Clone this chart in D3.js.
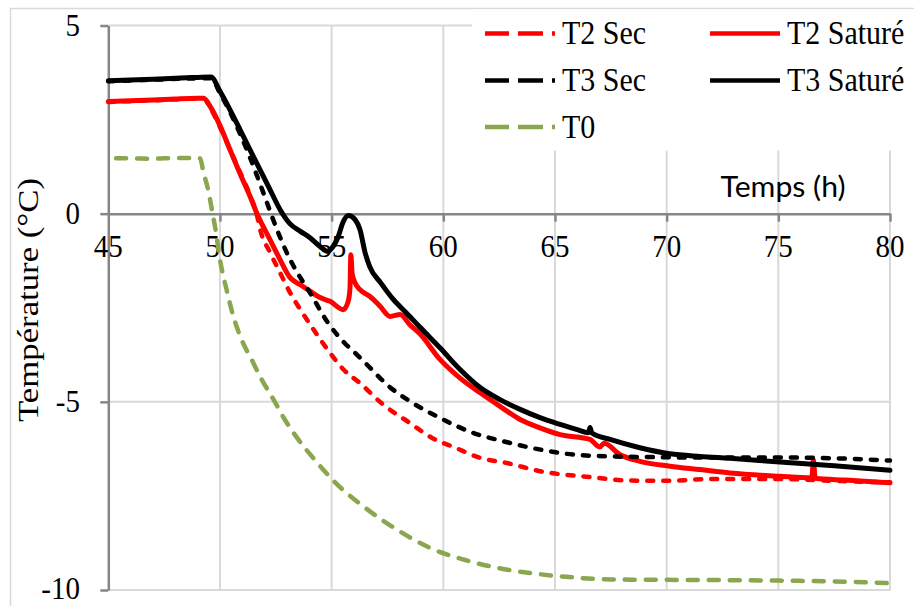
<!DOCTYPE html>
<html><head><meta charset="utf-8">
<script src="https://cdn.jsdelivr.net/npm/d3@7"></script>
<style>body{margin:0;background:#fff}svg{display:block}</style>
</head><body>
<svg id="c" width="914" height="606"></svg>
<script>
// ---- data ----
const xTicks = [45, 50, 55, 60, 65, 70, 75, 80];
const yTicks = [5, 0, -5, -10];
const xTitle = "Temps (h)";
const yTitle = "Température (°C)";

const t2SecT = [45, 47, 49.27, 49.56, 50, 50.45, 50.9, 51.34, 51.66, 51.8, 52.25, 52.7, 53.14, 53.6, 54.19, 54.93, 55.53, 56.26, 57.3, 58.5, 59.5, 60.54, 61.65, 62.8, 64.4, 66.6, 68.2, 70, 72, 75, 77.5, 80];
const t2SecV = [2.97, 3.01, 3.06, 2.82, 2.3, 1.7, 1.1, 0.5, -0.05, -0.42, -1.04, -1.58, -2.1, -2.55, -3.08, -3.7, -4.14, -4.5, -5.07, -5.56, -5.96, -6.22, -6.49, -6.62, -6.85, -7.0, -7.09, -7.1, -7.05, -7.05, -7.1, -7.14];

const t2SatT = [45, 46, 47, 48, 49, 49.27, 49.56, 50, 50.45, 50.9, 51.34, 51.66, 52.24, 52.69, 53.14, 53.6, 54.03, 54.48, 54.93, 55.52, 55.74, 55.82, 55.86, 55.92, 56.05, 56.27, 56.72, 57.17, 57.62, 58.07, 58.5, 58.96, 59.86, 60.75, 61.65, 62.54, 63.44, 64.33, 65.23, 66.57, 67.0, 67.2, 67.9, 68.8, 70.15, 71.5, 72.84, 75.07, 76.5, 76.57, 76.65, 78, 80];
const t2SatV = [2.98, 3.0, 3.02, 3.05, 3.07, 3.07, 2.85, 2.34, 1.7, 1.06, 0.47, 0.0, -0.69, -1.22, -1.7, -1.89, -2.06, -2.23, -2.33, -2.55, -2.33, -2.0, -1.09, -1.6, -1.84, -2.02, -2.2, -2.46, -2.73, -2.68, -2.95, -3.2, -3.88, -4.37, -4.76, -5.12, -5.47, -5.69, -5.87, -6.0, -6.2, -6.1, -6.4, -6.58, -6.71, -6.8, -6.89, -6.98, -7.02, -6.54, -7.03, -7.08, -7.15];

const t3SecT = [45, 47, 49.6, 50, 50.45, 50.9, 51.34, 51.79, 52.1, 52.55, 53.14, 53.6, 54.03, 54.78, 55.6, 56.05, 56.58, 57.47, 58.52, 59.86, 61.36, 62.7, 64.35, 65.8, 67.5, 69.5, 72, 75, 77.5, 80];
const t3SecV = [3.52, 3.56, 3.6, 3.2, 2.7, 2.12, 1.5, 0.8, 0.3, -0.42, -1.22, -1.7, -2.1, -2.85, -3.45, -3.7, -4.01, -4.54, -4.99, -5.43, -5.83, -6.05, -6.27, -6.4, -6.45, -6.47, -6.48, -6.48, -6.5, -6.56];

const t3SatT = [45, 46, 47, 48, 49, 49.6, 50, 50.45, 50.9, 51.34, 51.79, 52.24, 52.7, 53.14, 53.6, 54.03, 54.48, 54.8, 55.0, 55.3, 55.5, 55.75, 56.05, 56.27, 56.5, 56.7, 57.2, 57.76, 58.37, 58.96, 59.86, 60.75, 61.65, 62.54, 63.44, 64.33, 65.23, 66.0, 66.5, 66.57, 66.65, 67.47, 68.8, 70.15, 71.5, 72.84, 75.07, 77.5, 80];
const t3SatV = [3.53, 3.55, 3.57, 3.6, 3.62, 3.63, 3.25, 2.76, 2.23, 1.7, 1.17, 0.64, 0.1, -0.27, -0.47, -0.64, -0.87, -1.0, -0.92, -0.6, -0.24, -0.05, -0.16, -0.43, -1.04, -1.4, -1.84, -2.28, -2.65, -3.02, -3.57, -4.14, -4.62, -4.94, -5.2, -5.42, -5.6, -5.74, -5.82, -5.68, -5.83, -6.0, -6.22, -6.38, -6.45, -6.5, -6.6, -6.7, -6.82];

const t0T = [45.35, 46, 47, 48, 49.1, 49.27, 49.5, 49.64, 49.8, 50.0, 50.3, 50.6, 50.97, 51.42, 51.87, 52.4, 52.86, 53.3, 54.36, 55.07, 56.58, 58.07, 59.4, 60.9, 62.4, 63.9, 65.5, 67.5, 70, 75, 78, 80];
const t0V = [1.47, 1.47, 1.46, 1.48, 1.47, 1.08, 0.55, 0.1, -0.42, -1.22, -2.03, -2.73, -3.35, -3.88, -4.41, -4.94, -5.43, -5.83, -6.62, -7.09, -7.85, -8.45, -8.88, -9.19, -9.41, -9.55, -9.65, -9.72, -9.73, -9.75, -9.78, -9.82];

const seriesNames = ["T2 Sec", "T2 Saturé", "T3 Sec", "T3 Saturé", "T0"];
const seriesT = [t2SecT, t2SatT, t3SecT, t3SatT, t0T];
const seriesV = [t2SecV, t2SatV, t3SecV, t3SatV, t0V];
const seriesColor = ["#ff0000", "#ff0000", "#000000", "#000000", "#8aa64e"];
const seriesDashed = [true, false, true, false, true];

// ---- drawing ----
const svg = d3.select("#c");
const x = d3.scaleLinear().domain([45, 80]).range([108.3, 890]);
const y = d3.scaleLinear().domain([-10, 5]).range([590, 25.5]);
const serif = "'Liberation Serif','Times New Roman',serif";
const GRID = "#d9d9d9", AXIS = "#868686";

svg.append("rect").attr("x", 0).attr("y", 0).attr("width", 914).attr("height", 606).attr("fill", "#fff");
// outer chart border
svg.append("rect").attr("x", 10.5).attr("y", 8.5).attr("width", 1000).attr("height", 1000)
  .attr("fill", "none").attr("stroke", GRID).attr("stroke-width", 1.5);

// gridlines
svg.append("g").selectAll("line").data(xTicks.slice(1)).join("line")
  .attr("x1", d => x(d)).attr("x2", d => x(d)).attr("y1", y(5)).attr("y2", y(-10))
  .attr("stroke", GRID).attr("stroke-width", 2);
svg.append("g").selectAll("line").data([5, -5, -10]).join("line")
  .attr("x1", x(45)).attr("x2", x(80)).attr("y1", d => y(d)).attr("y2", d => y(d))
  .attr("stroke", GRID).attr("stroke-width", 2);

// axes
const yAxis = d3.axisLeft(y).tickValues(yTicks).tickSize(8).tickSizeOuter(0).tickFormat("");
const gy = svg.append("g").attr("transform", `translate(${x(45)},0)`).call(yAxis);
const xAxis = d3.axisBottom(x).tickValues(xTicks.slice(1)).tickSize(8).tickSizeOuter(0).tickFormat("");
const gx = svg.append("g").attr("transform", `translate(0,${y(0)})`).call(xAxis);
[gx, gy].forEach(g => {
  g.selectAll("path,line").attr("stroke", AXIS).attr("stroke-width", 2.5);
});

// tick labels
svg.append("g").selectAll("text").data(xTicks).join("text")
  .attr("transform", d => `translate(${x(d)},${y(0) + 43.5}) scale(1,1.1)`)
  .attr("text-anchor", "middle").attr("font-family", serif).attr("font-size", 29)
  .attr("fill", "#000").text(d => d);
svg.append("g").selectAll("text").data(yTicks).join("text")
  .attr("transform", d => `translate(80,${Math.min(y(d) + 10.5, 599)}) scale(1,1.1)`)
  .attr("text-anchor", "end").attr("font-family", serif).attr("font-size", 29)
  .attr("fill", "#000").text(d => d);

// axis titles
svg.append("text").attr("transform", "translate(38,300) rotate(-90)")
  .attr("text-anchor", "middle").attr("font-family", serif).attr("font-size", 29)
  .attr("textLength", 244).attr("lengthAdjust", "spacingAndGlyphs")
  .attr("fill", "#000").text(yTitle);

// series
const line = d3.line().x(d => x(d[0])).y(d => y(d[1])).curve(d3.curveMonotoneX);
seriesNames.forEach((n, i) => {
  const pts = seriesT[i].map((t, j) => [t, seriesV[i][j]]);
  svg.append("path").datum(pts).attr("d", line).attr("fill", "none")
    .attr("stroke", seriesColor[i])
    .attr("stroke-width", seriesDashed[i] ? 4.5 : 5)
    .attr("stroke-linejoin", "round")
    .attr("stroke-linecap", "round")
    .attr("stroke-dasharray", seriesDashed[i] ? (n === "T0" ? "10,11" : "6,10") : null);
});

// legend (white box hides gridlines)
svg.append("rect").attr("x", 472).attr("y", 9.5).attr("width", 442).attr("height", 141).attr("fill", "#fff");
const legRows = [33.5, 80.5, 127];
const legPos = [[485, 0], [710, 0], [485, 1], [710, 1], [485, 2]];
seriesNames.forEach((n, i) => {
  const lx = legPos[i][0], ly = legRows[legPos[i][1]];
  svg.append("line").attr("x1", lx).attr("x2", lx + 70).attr("y1", ly).attr("y2", ly)
    .attr("stroke", seriesColor[i]).attr("stroke-width", 4.5)
    .attr("stroke-dasharray", seriesDashed[i] ? "24,9,25,9,3" : null);
  svg.append("text").attr("transform", `translate(${lx + 77},${ly + 10.5}) scale(1,1.1)`)
    .attr("font-family", serif).attr("font-size", 30).attr("fill", "#000").text(n);
});

// x title
svg.append("text").attr("x", 783).attr("y", 197).attr("text-anchor", "middle")
  .attr("font-family", "Lato, 'Open Sans', sans-serif").attr("font-size", 28)
  .attr("textLength", 125).attr("lengthAdjust", "spacingAndGlyphs")
  .attr("fill", "#000").text(xTitle);
</script>
</body></html>
